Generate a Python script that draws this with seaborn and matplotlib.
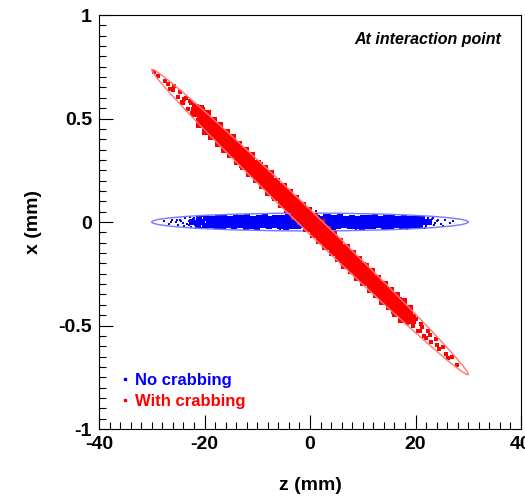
import numpy as np
import matplotlib
matplotlib.use("Agg")
import matplotlib.pyplot as plt
import matplotlib.transforms as mtransforms
from matplotlib.patches import Ellipse
from matplotlib.lines import Line2D
from matplotlib.ticker import MultipleLocator
import seaborn as sns

# --- beam particles, no crabbing (z in mm, x in mm) ---
blue_core_z = [
    -21.0, -19.8, -18.6, -17.5, -16.3, -15.2, -14.1, -13.0, -11.9, -10.8,
    -9.7, -8.6, -7.5, -6.4, -5.3, -4.2, -3.1, -2.0, -0.9, 0.2,
    1.3, 2.4, 3.5, 4.6, 5.7, 6.8, 7.9, 9.0, 10.1, 11.2,
    12.3, 13.4, 14.5, 15.6, 16.7, 17.8, 18.9, 20.0, 21.2,
    -22.3, -21.5, -20.4, -19.2, -18.0, -16.9, -15.8, -14.7, -13.6, -12.5,
    -11.4, -10.3, -9.2, -8.1, -7.0, -5.9, -4.8, -3.7, -2.6, -1.5,
    -0.4, 0.7, 1.8, 2.9, 4.0, 5.1, 6.2, 7.3, 8.4, 9.5,
    10.6, 11.7, 12.8, 13.9, 15.0, 16.1, 17.2, 18.3, 19.4, 20.5,
    21.7, 22.6,
    -21.2, -20.0, -18.9, -17.8, -16.7, -15.6, -14.4, -13.3, -12.2, -11.1,
    -10.0, -8.9, -7.8, -6.7, -5.6, -4.5, -3.4, -2.3, -1.2, -0.1,
    1.0, 2.1, 3.2, 4.3, 5.4, 6.5, 7.6, 8.7, 9.8, 10.9,
    12.0, 13.1, 14.2, 15.3, 16.4, 17.5, 18.6, 19.7, 20.8,
]
blue_core_x = [
    0.016, 0.021, 0.014, 0.019, 0.023, 0.015, 0.020, 0.017, 0.022, 0.013,
    0.019, 0.024, 0.016, 0.021, 0.018, 0.025, 0.014, 0.020, 0.017, 0.023,
    0.019, 0.015, 0.022, 0.018, 0.024, 0.016, 0.020, 0.013, 0.021, 0.017,
    0.023, 0.015, 0.019, 0.022, 0.016, 0.020, 0.014, 0.018, 0.015,
    0.002, -0.003, 0.001, 0.004, -0.002, 0.000, 0.003, -0.004, 0.002, -0.001,
    0.004, 0.001, -0.003, 0.002, 0.000, -0.002, 0.003, -0.001, 0.004, 0.001,
    -0.003, 0.002, -0.001, 0.003, 0.000, -0.004, 0.002, 0.001, -0.002, 0.003,
    0.000, -0.003, 0.002, 0.004, -0.001, 0.001, -0.002, 0.003, 0.000, -0.003,
    0.002, -0.001,
    -0.017, -0.021, -0.014, -0.019, -0.023, -0.016, -0.020, -0.015, -0.022, -0.018,
    -0.024, -0.016, -0.020, -0.013, -0.019, -0.022, -0.017, -0.021, -0.015, -0.023,
    -0.018, -0.020, -0.016, -0.022, -0.019, -0.014, -0.021, -0.017, -0.023, -0.018,
    -0.020, -0.015, -0.022, -0.019, -0.016, -0.021, -0.018, -0.014, -0.017,
]
blue_halo_z = [
    -27.6, -26.8, -26.1, -25.5, -25.0, -24.6, -24.1, -23.7, -23.3, -22.9, -22.6, -22.2, -21.9,
    24.0, 24.8, 25.6, 26.5, 23.5, 23.1, 22.8, 22.4, 25.2, 27.2,
    -19.5, -16.2, -13.8, -10.9, -8.4, -5.7, -3.0, -0.8, 1.1, 3.9, 6.1, 8.8,
    11.4, 13.7, 16.0, 18.3, 20.6, -18.0, -12.4, -7.1, 2.7, 9.9, 15.1, -1.9,
    -21.0, -21.4, -20.7, -22.8, -23.9, -24.4, -25.3, -26.3, -20.2,
    21.4, 22.0, 22.9, 23.7, 24.3, 21.8, 23.3, -22.0, -23.0,
]
blue_halo_x = [
    0.003, -0.008, 0.012, 0.000, -0.015, 0.009, -0.004, 0.018, -0.011, 0.006, -0.022, 0.014, -0.006,
    0.004, -0.009, 0.011, -0.003, -0.016, 0.013, -0.007, 0.019, -0.017, 0.006,
    0.031, -0.032, 0.034, -0.030, 0.036, -0.035, 0.030, -0.033, 0.054, -0.031, 0.033, -0.036,
    0.031, -0.030, 0.034, -0.032, 0.029, -0.029, -0.034, 0.029, 0.032, 0.030, -0.028, 0.034,
    0.026, -0.025, -0.029, 0.022, -0.018, 0.004, 0.010, -0.002, 0.030,
    0.024, -0.021, 0.010, -0.004, 0.008, -0.027, 0.020, 0.021, -0.014,
]

# --- beam particles, with crabbing ---
red_core_z = [
    -21.0, -19.8, -18.6, -17.4, -16.2, -15.0, -13.8, -12.6, -11.4, -10.2,
    -9.0, -7.8, -6.6, -5.4, -4.2, -3.0, -1.8, -0.6, 0.6, 1.8,
    3.0, 4.2, 5.4, 6.6, 7.8, 9.0, 10.2, 11.4, 12.6, 13.8,
    15.0, 16.2, 17.4, 18.6,
    -21.6, -20.4, -19.2, -18.0, -16.8, -15.6, -14.4, -13.2, -12.0, -10.8,
    -9.6, -8.4, -7.2, -6.0, -4.8, -3.6, -2.4, -1.2, 0.0, 1.2,
    2.4, 3.6, 4.8, 6.0, 7.2, 8.4, 9.6, 10.8, 12.0, 13.2,
    14.4, 15.6, 16.8, 18.0, 19.2,
    -20.7, -19.5, -18.3, -17.1, -15.9, -14.7, -13.5, -12.3, -11.1, -9.9,
    -8.7, -7.5, -6.3, -5.1, -3.9, -2.7, -1.5, -0.3, 0.9, 2.1,
    3.3, 4.5, 5.7, 6.9, 8.1, 9.3, 10.5, 11.7, 12.9, 14.1,
    15.3, 16.5, 17.7,
]
red_core_x = [
    0.540, 0.518, 0.482, 0.459, 0.425, 0.400, 0.366, 0.336, 0.312, 0.277,
    0.253, 0.225, 0.189, 0.164, 0.136, 0.106, 0.071, 0.048, 0.017, -0.011,
    -0.043, -0.070, -0.100, -0.131, -0.159, -0.186, -0.223, -0.247, -0.281, -0.307,
    -0.339, -0.364, -0.393, -0.424,
    0.532, 0.496, 0.474, 0.438, 0.415, 0.379, 0.356, 0.320, 0.297, 0.261,
    0.238, 0.203, 0.180, 0.144, 0.121, 0.085, 0.062, 0.026, 0.003, -0.032,
    -0.055, -0.091, -0.114, -0.150, -0.173, -0.209, -0.232, -0.268, -0.291, -0.327,
    -0.350, -0.386, -0.408, -0.444, -0.467,
    0.479, 0.446, 0.420, 0.387, 0.358, 0.333, 0.298, 0.273, 0.240, 0.211,
    0.185, 0.152, 0.126, 0.093, 0.066, 0.034, 0.008, -0.024, -0.051, -0.084,
    -0.109, -0.142, -0.168, -0.201, -0.227, -0.260, -0.285, -0.318, -0.344, -0.377,
    -0.403, -0.436, -0.462,
]
red_halo_z = [
    -29.6, -28.9, -27.4, -26.5, -25.8, -25.1, -24.6, -24.0, -23.5, -23.1, -22.7, -22.3, -21.9,
    19.8, 20.4, 21.0, 21.7, 22.3, 23.0, 23.8, 24.5, 25.3, 26.2, 27.0, 27.9,
    -17.0, -13.0, -9.3, -5.5, -2.0, 1.5, 4.9, 8.5, 12.0, 15.8, -19.0, -11.0, 6.0, 17.0, -7.0, 10.3,
    -21.5, -22.0, -22.5, -21.2, -23.8, -24.3, -20.3, -26.0, -27.0,
    19.0, 19.5, 20.1, 20.8, 21.3, 22.0, 22.7, 18.3, 24.0, 25.8,
]
red_halo_x = [
    0.727, 0.704, 0.680, 0.641, 0.655, 0.606, 0.628, 0.575, 0.601, 0.548, 0.585, 0.528, 0.566,
    -0.462, -0.527, -0.495, -0.552, -0.528, -0.580, -0.566, -0.612, -0.604, -0.655, -0.651, -0.692,
    0.467, 0.269, 0.280, 0.087, 0.099, -0.087, -0.072, -0.258, -0.244, -0.435, 0.421, 0.318,
    -0.199, -0.372, 0.122, -0.205,
    0.560, 0.515, 0.575, 0.490, 0.595, 0.580, 0.545, 0.640, 0.668,
    -0.445, -0.500, -0.470, -0.528, -0.505, -0.560, -0.545, -0.488, -0.595, -0.640,
]

# envelope ellipses (half length in z, half width in x, crab slope dx/dz)
ell_half_z = 30.0
blue_half_x = 0.043
red_half_x = 0.06
crab_slope = -0.0245

sns.set_theme(style="white")
plt.rcParams["font.family"] = ["Liberation Sans", "DejaVu Sans"]
plt.rcParams["font.weight"] = "bold"
plt.rcParams["axes.unicode_minus"] = False
plt.rcParams["text.color"] = "black"
plt.rcParams["axes.labelcolor"] = "black"

fig = plt.figure(figsize=(5.25, 4.97), dpi=100)
ax = fig.add_axes([0.1886, 0.1368, 0.8038, 0.833])

# no crabbing
sns.scatterplot(x=blue_core_z, y=blue_core_x, color="#0000ff", marker="s", s=14,
                linewidth=0, ax=ax)
sns.scatterplot(x=blue_halo_z, y=blue_halo_x, color="#0000ff", marker="s", s=4,
                linewidth=0, ax=ax)
ax.add_patch(Ellipse((0, 0), 2 * ell_half_z, 2 * blue_half_x, fill=False,
                     edgecolor="#7777ff", linewidth=1.0))

# with crabbing
sns.scatterplot(x=red_core_z, y=red_core_x, color="#ff0000", marker="s", s=46,
                linewidth=0, ax=ax)
sns.scatterplot(x=red_halo_z, y=red_halo_x, color="#ff0000", marker="s", s=5,
                linewidth=0, ax=ax)
shear = mtransforms.Affine2D(np.array([[1, 0, 0], [crab_slope, 1, 0], [0, 0, 1]]))
ax.add_patch(Ellipse((0, 0), 2 * ell_half_z, 2 * red_half_x, fill=False,
                     edgecolor="#ff7777", linewidth=1.0,
                     transform=shear + ax.transData))

ax.set_xlim(-40, 40)
ax.set_ylim(-1, 1)
ax.xaxis.set_major_locator(MultipleLocator(20))
ax.xaxis.set_minor_locator(MultipleLocator(2))
ax.yaxis.set_major_locator(MultipleLocator(0.5))
ax.yaxis.set_minor_locator(MultipleLocator(0.05))
ax.yaxis.set_major_formatter(plt.FuncFormatter(lambda v, p: f"{v:g}"))
ax.tick_params(which="both", direction="in", top=False, right=False,
               bottom=True, left=True, colors="black", labelsize=14, width=0.8)
ax.tick_params(which="major", length=10, pad=5)
ax.tick_params(which="minor", length=5)
for sp in ax.spines.values():
    sp.set_color("black")
    sp.set_linewidth(0.8)

ax.set_xlabel("z (mm)", fontsize=14, fontweight="bold", labelpad=17)
ax.set_ylabel("x (mm)", fontsize=14, fontweight="bold", labelpad=12)

ax.text(0.952, 0.94, "At interaction point", transform=ax.transAxes, ha="right",
        va="center", fontsize=11.5, fontweight="bold", fontstyle="italic")

handles = [Line2D([], [], linestyle="none", marker="s", markersize=1.5,
                  color="#0000ff", label="No crabbing"),
           Line2D([], [], linestyle="none", marker="s", markersize=1.5,
                  color="#ff0000", label="With crabbing")]
ax.legend(handles=handles, loc="lower left", bbox_to_anchor=(0.01, 0.012),
          frameon=False, handlelength=0.8, handletextpad=0.2,
          labelspacing=0.35, labelcolor=["#0000ff", "#ff0000"],
          prop={"weight": "bold", "size": 12})

fig.savefig("out.png", dpi=100)
